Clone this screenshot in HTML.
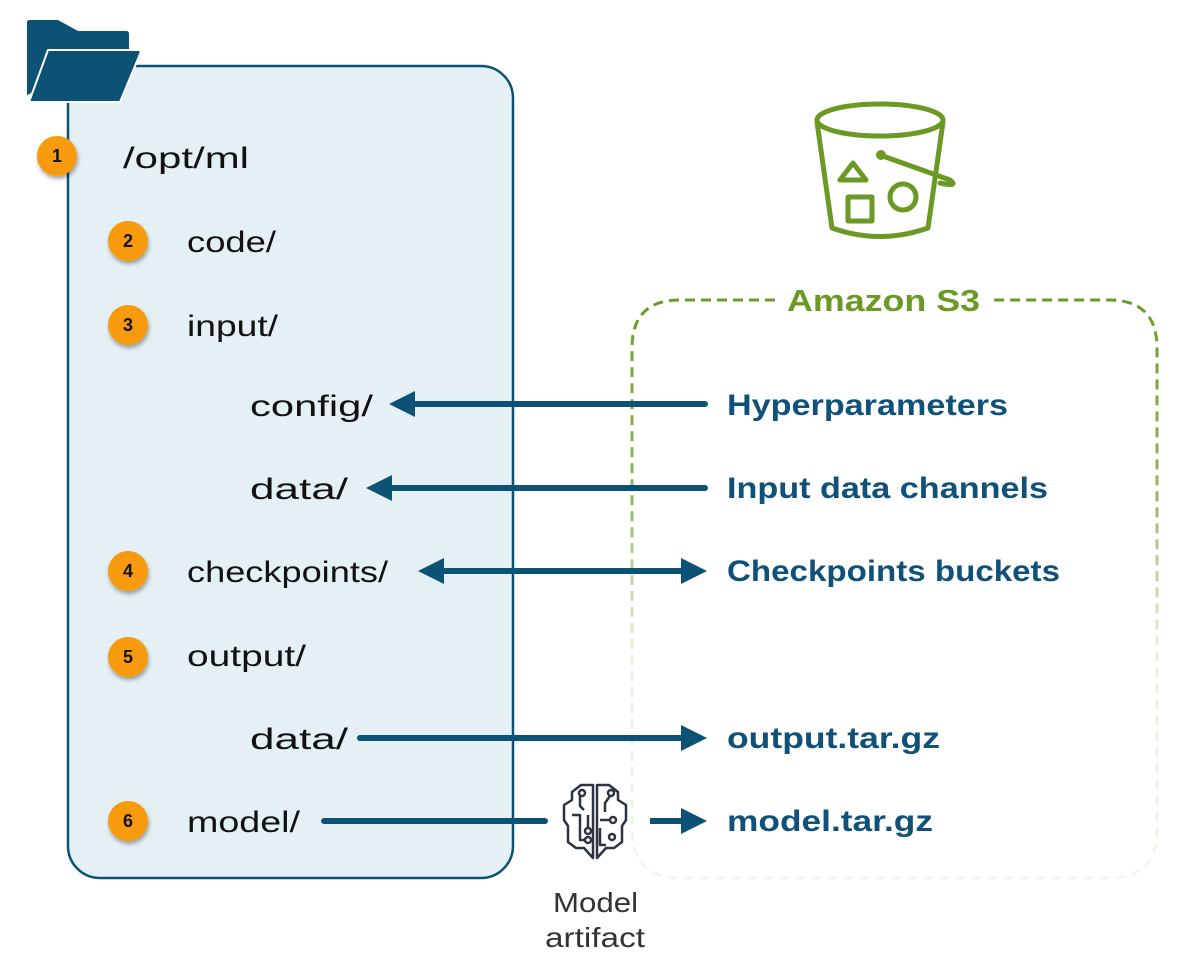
<!DOCTYPE html>
<html><head><meta charset="utf-8"><style>
html,body{margin:0;padding:0;background:#fff;}
svg{display:block;}
text{font-family:"Liberation Sans",sans-serif;}
</style></head><body>
<svg width="1194" height="971" viewBox="0 0 1194 971" xmlns="http://www.w3.org/2000/svg">
<defs>
<linearGradient id="fade" x1="0" y1="300" x2="0" y2="880" gradientUnits="userSpaceOnUse">
<stop offset="0" stop-color="#6b9a24" stop-opacity="1"/>
<stop offset="0.35" stop-color="#6b9a24" stop-opacity="0.7"/>
<stop offset="0.6" stop-color="#6b9a24" stop-opacity="0.15"/>
<stop offset="1" stop-color="#6b9a24" stop-opacity="0.08"/>
</linearGradient>
<filter id="sh" x="-50%" y="-50%" width="200%" height="200%"><feDropShadow dx="1" dy="3" stdDeviation="2" flood-color="#000" flood-opacity="0.35"/></filter>
</defs>

<rect x="68" y="66" width="445" height="812" rx="32" fill="#e5f0f5" stroke="#0b5275" stroke-width="2.5"/>
<path d="M27 22 Q27 20 30 20 L58 20 L78 31 L126 31 Q129 31 129 34 L129 50 L27 95 Z" fill="#0b5275"/>
<path d="M48 50 L138 50 Q142 50 140 54 L120 102 L29 102 Z" fill="#0b5275" stroke="#fff" stroke-width="2"/>

<path d="M775 300 L680 300 Q632 300 632 348 L632 830 Q632 878 680 878 L1109 878 Q1157 878 1157 830 L1157 348 Q1157 300 1109 300 L990 300" fill="none" stroke="url(#fade)" stroke-width="3" stroke-dasharray="10 6"/>
<text x="787" y="311" font-size="31" font-weight="bold" fill="#6b9a24" textLength="193" lengthAdjust="spacingAndGlyphs">Amazon S3</text>

<g fill="none" stroke="#6b9a24" stroke-width="5" stroke-linecap="round" stroke-linejoin="round">
<ellipse cx="880" cy="120" rx="63" ry="16"/>
<path d="M817 122 L832 228 Q880 245 928 228 L943 122"/>
<path d="M840 180 L853 163 L866 180 Z"/>
<rect x="848" y="197" width="24" height="24"/>
<circle cx="903" cy="197" r="13"/>
<path d="M880 155 L950 180 Q958 186 945 184 L940 183"/>
</g>
<circle cx="881" cy="155" r="5" fill="#6b9a24"/>

<g font-size="18" font-weight="bold" text-anchor="middle" fill="#111">
<g filter="url(#sh)" fill="#f79a0f">
<circle cx="57" cy="156" r="20"/><circle cx="128" cy="241" r="20"/><circle cx="128" cy="325" r="20"/>
<circle cx="128" cy="571" r="20"/><circle cx="128" cy="657" r="20"/><circle cx="128" cy="821" r="20"/>
</g>
<text x="57" y="162">1</text><text x="128" y="247">2</text><text x="128" y="331">3</text>
<text x="128" y="577">4</text><text x="128" y="663">5</text><text x="128" y="827">6</text>
</g>

<g font-size="30" fill="#111" lengthAdjust="spacingAndGlyphs">
<text x="123" y="168" textLength="126" lengthAdjust="spacingAndGlyphs">/opt/ml</text>
<text x="187" y="252" textLength="89" lengthAdjust="spacingAndGlyphs">code/</text>
<text x="187" y="336" textLength="91" lengthAdjust="spacingAndGlyphs">input/</text>
<text x="250" y="416" textLength="123" lengthAdjust="spacingAndGlyphs">config/</text>
<text x="250" y="499" textLength="98" lengthAdjust="spacingAndGlyphs">data/</text>
<text x="187" y="582" textLength="201" lengthAdjust="spacingAndGlyphs">checkpoints/</text>
<text x="187" y="666" textLength="119" lengthAdjust="spacingAndGlyphs">output/</text>
<text x="250" y="749" textLength="98" lengthAdjust="spacingAndGlyphs">data/</text>
<text x="187" y="832" textLength="113" lengthAdjust="spacingAndGlyphs">model/</text>
</g>

<g stroke="#0b5275" stroke-width="6" stroke-linecap="round" fill="none">
<line x1="705" y1="404" x2="410" y2="404"/>
<line x1="705" y1="488" x2="388" y2="488"/>
<line x1="440" y1="571" x2="685" y2="571"/>
<line x1="360" y1="738" x2="685" y2="738"/>
<line x1="324" y1="821" x2="545" y2="821"/>
<line x1="650" y1="821" x2="685" y2="821" stroke-linecap="butt"/>
</g>
<g fill="#0b5275">
<path d="M389 404 L415 391 L415 417 Z"/>
<path d="M366 488 L392 475 L392 501 Z"/>
<path d="M418 571 L444 558 L444 584 Z"/>
<path d="M707 571 L681 558 L681 584 Z"/>
<path d="M707 738 L681 725 L681 751 Z"/>
<path d="M707 821 L681 808 L681 834 Z"/>
</g>

<g fill="none" stroke="#2b3440" stroke-width="2.5" stroke-linejoin="round">
<path d="M593 785 L581 785 L572 792 L572 800 L564 805 L564 820 L568 826 L568 842 L576 848 L584 848 L593 858 Z"/>
<path d="M597 785 L609 785 L618 792 L618 800 L626 805 L626 820 L622 826 L622 842 L614 848 L606 848 L597 858 Z"/>
<path d="M580 795 L580 806 L584 810"/><circle cx="582" cy="793" r="3"/>
<path d="M588 815 L588 828"/><circle cx="588" cy="831" r="3"/>
<path d="M572 815 L580 815 L580 840 L585 840"/><circle cx="588" cy="840" r="3"/>
<path d="M610 796 L605 803 L605 812"/><circle cx="611" cy="793" r="3"/>
<path d="M600 820 L610 820"/><circle cx="613" cy="820" r="3"/>
<path d="M600 828 L600 845 L606 845"/><circle cx="612" cy="837" r="3"/>
</g>
<g font-size="28" fill="#333">
<text x="553" y="912" textLength="85" lengthAdjust="spacingAndGlyphs">Model</text>
<text x="545" y="947" textLength="100" lengthAdjust="spacingAndGlyphs">artifact</text>
</g>

<g font-size="30" font-weight="bold" fill="#0f5178">
<text x="727" y="415" textLength="281" lengthAdjust="spacingAndGlyphs">Hyperparameters</text>
<text x="727" y="498" textLength="321" lengthAdjust="spacingAndGlyphs">Input data channels</text>
<text x="727" y="581" textLength="333" lengthAdjust="spacingAndGlyphs">Checkpoints buckets</text>
<text x="727" y="748" textLength="213" lengthAdjust="spacingAndGlyphs">output.tar.gz</text>
<text x="727" y="831" textLength="206" lengthAdjust="spacingAndGlyphs">model.tar.gz</text>
</g>
</svg>
</body></html>
